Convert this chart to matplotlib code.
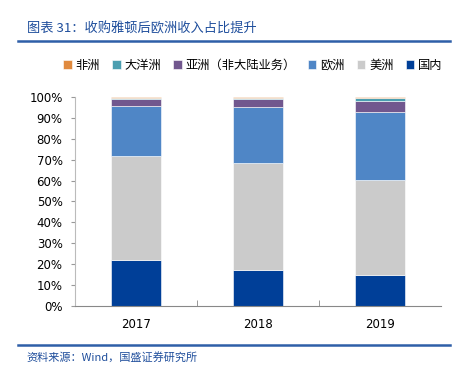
import matplotlib
matplotlib.use("Agg")
import matplotlib.pyplot as plt
import numpy as np

plt.rcParams['font.family'] = ['DejaVu Sans', 'Noto Sans CJK SC']

# 数据（百分比）
years = ['2017', '2018', '2019']
series_names = ['国内', '美洲', '欧洲', '亚洲（非大陆业务）', '大洋洲', '非洲']
guonei = [21.7, 17.3, 14.5]
meizhou = [50.1, 51.0, 46.0]
ouzhou = [24.1, 27.1, 32.5]
yazhou = [3.3, 3.6, 5.4]
dayangzhou = [0.5, 0.7, 1.2]
feizhou = [0.3, 0.3, 0.4]
colors = ['#003f98', '#cbcbcb', '#4f86c6', '#71578e', '#4a9eb0', '#e08a3e']

fig = plt.figure(figsize=(4.58, 3.66), dpi=100)
ax = fig.add_axes([0.164, 0.165, 0.799, 0.569])

x = np.arange(len(years))
bottom = np.zeros(len(years))
bars = []
for name, vals, c in zip(series_names, [guonei, meizhou, ouzhou, yazhou, dayangzhou, feizhou], colors):
    vals = np.array(vals) / 100
    b = ax.bar(x, vals, 0.41, bottom=bottom, color=c, edgecolor='white', linewidth=0.4, label=name)
    bars.append(b)
    bottom += vals

ax.set_xlim(-0.5, 2.5)
ax.set_ylim(0, 1.0)
ax.set_yticks(np.arange(0, 1.01, 0.1))
ax.set_yticklabels([f'{int(round(v*100))}%' for v in np.arange(0, 1.01, 0.1)], fontsize=8.5)
ax.set_xticks(x)
ax.set_xticklabels(years, fontsize=8.5)
ax.set_xticks([0.5, 1.5], minor=True)
ax.tick_params(axis='x', which='major', length=0, pad=9)
ax.tick_params(axis='x', which='minor', length=4, color='#888888', direction='in')
ax.tick_params(axis='y', length=3, color='#999999', pad=6)
for s in ['top', 'right']:
    ax.spines[s].set_visible(False)
ax.spines['left'].set_color('#bbbbbb')
ax.spines['bottom'].set_color('#888888')

# 图例（顺序与原图一致）
handles = bars[::-1]
labels = ['非洲', '大洋洲', '亚洲（非大陆业务）', '欧洲', '美洲', '国内']
fig.legend(handles, labels, loc='center', bbox_to_anchor=(0.552, 0.822), ncol=6,
           frameon=False, handlelength=0.7, handleheight=0.7,
           handletextpad=0.3, columnspacing=1.0,
           prop={'family': ['Noto Sans CJK SC'], 'size': 8.8})

# 标题与来源
title_color = '#1f4e9c'
fig.text(0.058, 0.922, '图表 31：收购雅顿后欧洲收入占比提升', fontsize=9.5, color=title_color,
         style='italic', family=['Noto Sans CJK SC'], va='center')
fig.add_artist(plt.Line2D([0.039, 0.983], [0.888, 0.888], color='#2e5fa8', linewidth=1.8))
fig.add_artist(plt.Line2D([0.039, 0.983], [0.057, 0.057], color='#2e5fa8', linewidth=1.8))
fig.text(0.058, 0.025, '资料来源：Wind，国盛证券研究所', fontsize=8, color=title_color,
         style='italic', family=['Noto Sans CJK SC', 'DejaVu Sans'], va='center')

fig.savefig('out.png', dpi=100)
